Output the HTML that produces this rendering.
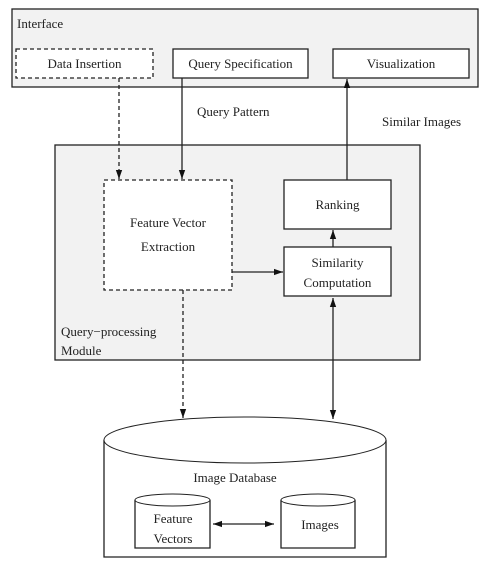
<!DOCTYPE html>
<html><head><style>body{margin:0;background:#fff}svg{display:block}text{font-family:"Liberation Serif",serif;font-size:13px;fill:#222}</style></head>
<body>
<svg width="487" height="569" viewBox="0 0 487 569">
<defs><marker id="a" viewBox="0 0 10 10" refX="10" refY="5" markerWidth="7" markerHeight="7" orient="auto-start-reverse"><path d="M0,1.5L10,5L0,8.5z" fill="#111"/></marker></defs>
<g stroke="#222" stroke-width="1.3">
<rect x="12" y="9" width="466" height="78" fill="#f2f2f2"/>
<rect x="16" y="49" width="137" height="29" fill="#fff" stroke-dasharray="4,3"/>
<rect x="173" y="49" width="135" height="29" fill="#fff"/>
<rect x="333" y="49" width="136" height="29" fill="#fff"/>
<rect x="55" y="145" width="365" height="215" fill="#f2f2f2"/>
<rect x="104" y="180" width="128" height="110" fill="#fff" stroke-dasharray="4,3"/>
<rect x="284" y="180" width="107" height="49" fill="#fff"/>
<rect x="284" y="247" width="107" height="49" fill="#fff"/>
<line x1="119" y1="78" x2="119" y2="179" stroke-dasharray="4,3" marker-end="url(#a)"/>
<line x1="182" y1="78" x2="182" y2="179" marker-end="url(#a)"/>
<line x1="347" y1="180" x2="347" y2="79" marker-end="url(#a)"/>
<line x1="232" y1="272" x2="283" y2="272" marker-end="url(#a)"/>
<line x1="333" y1="247" x2="333" y2="230" marker-end="url(#a)"/>
<line x1="183" y1="290" x2="183" y2="418" stroke-dasharray="4,3" marker-end="url(#a)"/>
<line x1="333" y1="298" x2="333" y2="419" marker-start="url(#a)" marker-end="url(#a)"/>
<path d="M104,440 L104,557 L386,557 L386,440" fill="#fff"/>
<ellipse cx="245" cy="440" rx="141" ry="23" fill="#fff" stroke-width="1"/>
<path d="M135,500 L135,548 L210,548 L210,500" fill="#fff"/>
<ellipse cx="172.5" cy="500" rx="37.5" ry="6" fill="#fff" stroke-width="1"/>
<path d="M281,500 L281,548 L355,548 L355,500" fill="#fff"/>
<ellipse cx="318" cy="500" rx="37" ry="6" fill="#fff" stroke-width="1"/>
<line x1="213" y1="524" x2="274" y2="524" marker-start="url(#a)" marker-end="url(#a)"/>
</g>
<text x="17" y="28">Interface</text>
<text x="84.5" y="68" text-anchor="middle">Data Insertion</text>
<text x="240.5" y="68" text-anchor="middle">Query Specification</text>
<text x="401" y="68" text-anchor="middle">Visualization</text>
<text x="197" y="116">Query Pattern</text>
<text x="382" y="126">Similar Images</text>
<text x="168" y="227" text-anchor="middle">Feature Vector</text>
<text x="168" y="251" text-anchor="middle">Extraction</text>
<text x="337.5" y="209" text-anchor="middle">Ranking</text>
<text x="337.5" y="267" text-anchor="middle">Similarity</text>
<text x="337.5" y="287" text-anchor="middle">Computation</text>
<text x="61" y="336">Query−processing</text>
<text x="61" y="355">Module</text>
<text x="235" y="482" text-anchor="middle">Image Database</text>
<text x="173" y="523" text-anchor="middle">Feature</text>
<text x="173" y="543" text-anchor="middle">Vectors</text>
<text x="320" y="529" text-anchor="middle">Images</text>
</svg>
</body></html>
